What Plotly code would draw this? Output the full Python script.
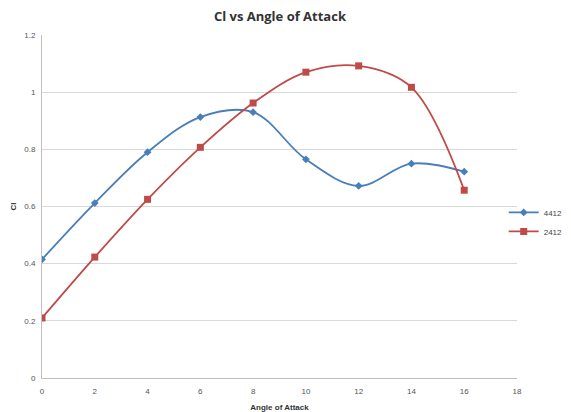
import plotly.graph_objects as go

angle = [0, 2, 4, 6, 8, 10, 12, 14, 16]
cl_4412 = [0.415, 0.612, 0.79, 0.913, 0.93, 0.765, 0.672, 0.75, 0.722]
cl_2412 = [0.21, 0.423, 0.625, 0.807, 0.962, 1.07, 1.092, 1.017, 0.657]
x_ticks = [0, 2, 4, 6, 8, 10, 12, 14, 16, 18]
y_ticks = [0, 0.2, 0.4, 0.6, 0.8, 1, 1.2]

fig = go.Figure()
fig.add_trace(go.Scatter(
    x=angle, y=cl_4412, name="4412", mode="lines+markers",
    line=dict(color="#4a7ebb", width=1.8, shape="spline", smoothing=1.0),
    marker=dict(symbol="diamond", size=6, color="#4a7ebb"),
))
fig.add_trace(go.Scatter(
    x=angle, y=cl_2412, name="2412", mode="lines+markers",
    line=dict(color="#be4b48", width=1.8, shape="spline", smoothing=1.0),
    marker=dict(symbol="square", size=7, color="#be4b48"),
))

fig.update_layout(
    width=563, height=404,
    margin=dict(l=34, r=54, t=27, b=34, autoexpand=False),
    paper_bgcolor="white", plot_bgcolor="white",
    title=dict(text="<b>Cl vs Angle of Attack</b>", x=0.483, xanchor="center",
               y=0.99, yanchor="top",
               font=dict(family="Open Sans, Liberation Sans, sans-serif", size=13, color="#333333")),
    font=dict(family="Liberation Sans, sans-serif", size=8, color="#555555"),
    showlegend=True,
    legend=dict(x=0.972, xanchor="left", y=0.455, yanchor="middle",
                font=dict(size=8, color="#444444"), itemwidth=30,
                tracegroupgap=2, bgcolor="rgba(0,0,0,0)"),
    xaxis=dict(range=[0, 18], tickvals=x_ticks, showgrid=False, zeroline=False,
               showline=True, linecolor="#bfbfbf", linewidth=1, automargin=False,
               ticks="", ticklabelstandoff=5, tickfont=dict(size=8, color="#555555"),
               title=dict(text="<b>Angle of Attack</b>", font=dict(size=8, color="#333333"), standoff=9)),
    yaxis=dict(range=[0, 1.2], tickvals=y_ticks, showgrid=True, gridcolor="#d9d9d9",
               zeroline=False, showline=True, linecolor="#bfbfbf", linewidth=1, automargin=False,
               ticks="", ticklabelstandoff=4, tickfont=dict(size=8, color="#555555"),
               title=dict(text="<b>Cl</b>", font=dict(size=8, color="#333333"), standoff=6)),
)

fig.write_html("out.html")
